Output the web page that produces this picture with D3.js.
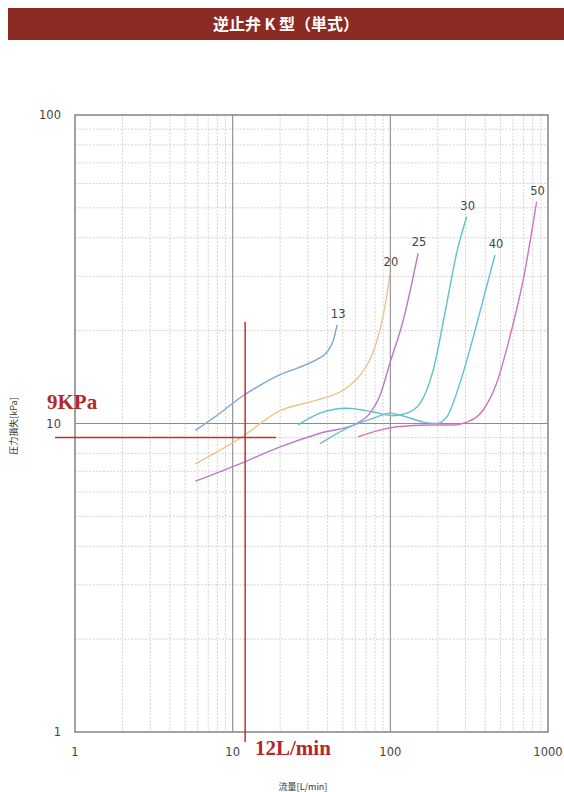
<!DOCTYPE html>
<html>
<head>
<meta charset="utf-8">
<script src="https://cdn.jsdelivr.net/npm/d3@7"></script>
<style>
  html, body { margin: 0; padding: 0; background: #fff; }
  svg { display: block; }
</style>
</head>
<body>
<svg id="chart" width="564" height="792"></svg>
<script>
// Pressure loss vs. flow for check valve type K (single), by nominal size
const sizes = ["13", "20", "25", "30", "40", "50"];

const flow13 = [5.8, 8.3, 11.1, 14.9, 20, 25.5, 34, 39.5, 43.5, 46];
const loss13 = [9.5, 10.8, 12.1, 13.3, 14.4, 15.1, 16.1, 17.0, 18.6, 20.9];

const flow20 = [5.8, 11.1, 20, 34, 50, 55.4, 66, 77, 85.9, 94.8, 99.4];
const loss20 = [7.4, 8.95, 11.0, 11.9, 12.8, 13.3, 14.6, 16.8, 20.1, 25.8, 30.7];

const flow25 = [5.8, 11.1, 20, 35.8, 61, 74.3, 85.9, 99.4, 121, 150];
const loss25 = [6.5, 7.4, 8.4, 9.3, 10.0, 10.8, 12.3, 15.7, 21.7, 35.6];

const flow30 = [26, 35.8, 52.8, 77.9, 104, 127, 154, 187, 228, 263, 305];
const loss30 = [9.9, 10.8, 11.2, 10.9, 10.6, 10.8, 11.6, 14.9, 24.5, 35.6, 46.8];

const flow40 = [35.8, 52.8, 77.9, 99.4, 127, 162, 197, 228, 276, 336, 408, 461];
const loss40 = [8.6, 9.65, 10.4, 10.8, 10.5, 10.1, 10.0, 10.5, 13.5, 19.1, 27.8, 35.2];

const flow50 = [62.6, 85.9, 110, 178, 251, 305, 388, 472, 573, 696, 847];
const loss50 = [9.06, 9.52, 9.76, 9.89, 9.89, 10.1, 11.06, 13.5, 19.1, 29.2, 52.4];

const flows = [flow13, flow20, flow25, flow30, flow40, flow50];
const losses = [loss13, loss20, loss25, loss30, loss40, loss50];

const xTicks = [1, 10, 100, 1000];
const yTicks = [1, 10, 100];

// Reading example
const exampleFlow = 12;
const exampleLoss = 9;
const exampleFlowLabel = "12L/min";
const exampleLossLabel = "9KPa";

const titleText = "逆止弁 K 型（単式）";
const xTitle = "流量[L/min]";
const yTitle = "圧力損失[kPa]";

const colors = ["#7ea6d2", "#eac48e", "#bb78c6", "#5ec3c4", "#68bde0", "#d472ba"];

const svg = d3.select("#chart");
const plot = { left: 75, right: 548, top: 115, bottom: 732 };

const x = d3.scaleLog().domain([1, 1000]).range([plot.left, plot.right]);
const y = d3.scaleLog().domain([1, 100]).range([plot.bottom, plot.top]);

// Title bar
svg.append("rect")
  .attr("x", 8).attr("y", 8).attr("width", 556).attr("height", 32)
  .attr("fill", "#8b2b25");
svg.append("text")
  .attr("x", 286).attr("y", 30)
  .attr("text-anchor", "middle")
  .attr("fill", "#fff")
  .attr("font-family", "'Noto Sans CJK JP', sans-serif")
  .attr("font-weight", "bold")
  .attr("font-size", 16)
  .text(titleText);

// Grid
const grid = svg.append("g");
const minorX = [];
const minorY = [];
for (let d = 1; d < 1000; d *= 10) for (let m = 2; m <= 9; m++) minorX.push(d * m);
for (let d = 1; d < 100; d *= 10) for (let m = 2; m <= 9; m++) minorY.push(d * m);

grid.selectAll(".mx").data(minorX).join("line")
  .attr("x1", d => x(d)).attr("x2", d => x(d))
  .attr("y1", plot.top).attr("y2", plot.bottom)
  .attr("stroke", "#c8c8c8").attr("stroke-width", 0.8)
  .attr("stroke-dasharray", "2,1.5");
grid.selectAll(".my").data(minorY).join("line")
  .attr("x1", plot.left).attr("x2", plot.right)
  .attr("y1", d => y(d)).attr("y2", d => y(d))
  .attr("stroke", "#c8c8c8").attr("stroke-width", 0.8)
  .attr("stroke-dasharray", "2,1.5");

grid.selectAll(".Mx").data([10, 100]).join("line")
  .attr("x1", d => x(d)).attr("x2", d => x(d))
  .attr("y1", plot.top).attr("y2", plot.bottom)
  .attr("stroke", "#8c8c8c").attr("stroke-width", 1.1);
grid.selectAll(".My").data([10]).join("line")
  .attr("x1", plot.left).attr("x2", plot.right)
  .attr("y1", d => y(d)).attr("y2", d => y(d))
  .attr("stroke", "#8c8c8c").attr("stroke-width", 1.1);

// Frame
svg.append("rect")
  .attr("x", plot.left).attr("y", plot.top)
  .attr("width", plot.right - plot.left).attr("height", plot.bottom - plot.top)
  .attr("fill", "none").attr("stroke", "#8a8a8a").attr("stroke-width", 1.6);

// Tick labels
const tickFont = "'DejaVu Sans', sans-serif";
svg.append("g").selectAll("text").data(xTicks).join("text")
  .attr("x", d => x(d)).attr("y", 756)
  .attr("text-anchor", "middle")
  .attr("font-family", tickFont).attr("font-size", 11.5).attr("fill", "#444")
  .text(d => d);
svg.append("g").selectAll("text").data(yTicks).join("text")
  .attr("x", 61).attr("y", d => y(d) + 4)
  .attr("text-anchor", "end")
  .attr("font-family", tickFont).attr("font-size", 11.5).attr("fill", "#444")
  .text(d => d);

// Axis titles
svg.append("text")
  .attr("x", 303).attr("y", 790)
  .attr("text-anchor", "middle")
  .attr("font-family", "'Noto Sans CJK JP', sans-serif")
  .attr("font-size", 9).attr("fill", "#333")
  .text(xTitle);
svg.append("text")
  .attr("transform", "translate(17,426) rotate(-90)")
  .attr("text-anchor", "middle")
  .attr("font-family", "'Noto Sans CJK JP', sans-serif")
  .attr("font-size", 9).attr("fill", "#333")
  .text(yTitle);

// Curves
const line = d3.line()
  .x(d => x(d[0])).y(d => y(d[1]))
  .curve(d3.curveMonotoneX);

sizes.forEach((s, i) => {
  const pts = flows[i].map((f, j) => [f, losses[i][j]]);
  svg.append("path")
    .attr("d", line(pts))
    .attr("fill", "none")
    .attr("stroke", colors[i])
    .attr("stroke-width", 1.4);
  const last = pts[pts.length - 1];
  svg.append("text")
    .attr("x", x(last[0]) + 1).attr("y", y(last[1]) - 7)
    .attr("text-anchor", "middle")
    .attr("font-family", tickFont).attr("font-size", 11.5).attr("fill", "#444")
    .text(s);
});

// Reading example lines
const red = "#c1312b";
svg.append("line")
  .attr("x1", x(exampleFlow)).attr("x2", x(exampleFlow))
  .attr("y1", 322).attr("y2", 742)
  .attr("stroke", red).attr("stroke-width", 1.5);
svg.append("line")
  .attr("x1", 55).attr("x2", 276)
  .attr("y1", y(exampleLoss)).attr("y2", y(exampleLoss))
  .attr("stroke", red).attr("stroke-width", 1.5);

svg.append("text")
  .attr("x", 47).attr("y", 409)
  .attr("font-family", "'Liberation Serif', serif")
  .attr("font-weight", "bold")
  .attr("font-size", 21).attr("fill", "#b3282a")
  .text(exampleLossLabel);
svg.append("text")
  .attr("x", 255).attr("y", 755)
  .attr("font-family", "'Liberation Serif', serif")
  .attr("font-weight", "bold")
  .attr("font-size", 21).attr("fill", "#b3282a")
  .text(exampleFlowLabel);
</script>
</body>
</html>
